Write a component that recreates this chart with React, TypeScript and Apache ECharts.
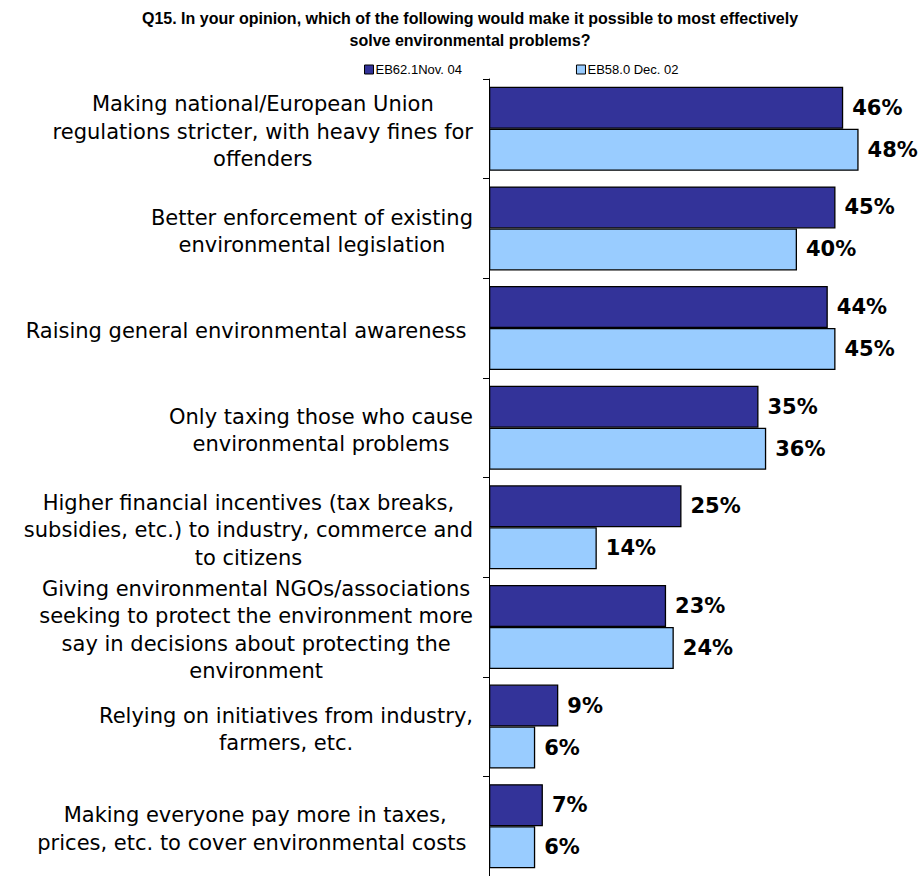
import React, { useEffect, useRef } from "react";
import * as echarts from "echarts";

const titleText =
  "Q15. In your opinion, which of the following would make it possible to most effectively\nsolve environmental problems?";

const categories = [
  "Making national/European Union\nregulations stricter, with heavy fines for\noffenders",
  "Better enforcement of existing\nenvironmental legislation",
  "Raising general environmental awareness ",
  "Only taxing those who cause\nenvironmental problems",
  "Higher financial incentives (tax breaks,\nsubsidies, etc.) to industry, commerce and\nto citizens",
  "Giving environmental NGOs/associations\nseeking to protect the environment more\nsay in decisions about protecting the\nenvironment",
  "Relying on initiatives from industry,\nfarmers, etc.",
  "Making everyone pay more in taxes,\nprices, etc. to cover environmental costs ",
];

const seriesNames = ["EB62.1Nov. 04", "EB58.0 Dec. 02"];
const nov04 = [46, 45, 44, 35, 25, 23, 9, 7];
const dec02 = [48, 40, 45, 36, 14, 24, 6, 6];

export default function App() {
  const ref = useRef<HTMLDivElement>(null);

  useEffect(() => {
    if (!ref.current) return;
    const chart = echarts.init(ref.current, null, { renderer: "svg" });

    const labelStyle = {
      show: true,
      position: "right" as const,
      distance: 9,
      formatter: "{c}%",
      color: "#000",
      fontFamily: "DejaVu Sans",
      fontWeight: "bold" as const,
      fontSize: 21,
    };

    chart.setOption({
      animation: false,
      backgroundColor: "#fff",
      title: {
        text: titleText,
        left: 470,
        top: 7,
        padding: 0,
        textAlign: "center",
        textStyle: {
          fontFamily: "Liberation Sans",
          fontWeight: "bold",
          fontSize: 16,
          lineHeight: 22,
          color: "#000",
        },
      },
      legend: {
        left: 364,
        top: 63,
        padding: 0,
        itemWidth: 9,
        itemHeight: 9,
        itemGap: 114,
        icon: "rect",
        itemStyle: { borderColor: "#000", borderWidth: 1 },
        textStyle: {
          fontFamily: "Liberation Sans",
          fontSize: 13,
          color: "#000",
          padding: [0, 0, 0, -3],
        },
        data: seriesNames,
      },
      grid: { left: 489, top: 79, width: 385, height: 802, containLabel: false },
      xAxis: {
        type: "value",
        min: 0,
        max: 50,
        show: false,
      },
      yAxis: {
        type: "category",
        inverse: true,
        data: categories,
        axisLine: { show: true, lineStyle: { color: "#000", width: 1 } },
        axisTick: { show: true, length: 6, lineStyle: { color: "#000" } },
        splitLine: { show: false },
        axisLabel: {
          interval: 0,
          margin: 16,
          padding: [6, 0, 0, 0],
          formatter: (v: string) =>
            v
              .split("\n")
              .map((l) => `{c|${l}}`)
              .join("\n"),
          rich: {
            c: {
              align: "center",
              fontFamily: "DejaVu Sans",
              fontSize: 21,
              lineHeight: 27.5,
              color: "#000",
            },
          },
        },
      },
      series: [
        {
          name: seriesNames[0],
          type: "bar",
          data: nov04,
          barWidth: 42,
          barGap: "0%",
          itemStyle: { color: "#333399", borderColor: "#000", borderWidth: 1.3 },
          label: labelStyle,
        },
        {
          name: seriesNames[1],
          type: "bar",
          data: dec02,
          barWidth: 42,
          barGap: "0%",
          itemStyle: { color: "#99CCFF", borderColor: "#000", borderWidth: 1.3 },
          label: labelStyle,
        },
      ],
    });

    return () => chart.dispose();
  }, []);

  return (
    <div
      ref={ref}
      style={{ position: "fixed", left: 0, top: 0, width: 923, height: 876, background: "#fff" }}
    />
  );
}
